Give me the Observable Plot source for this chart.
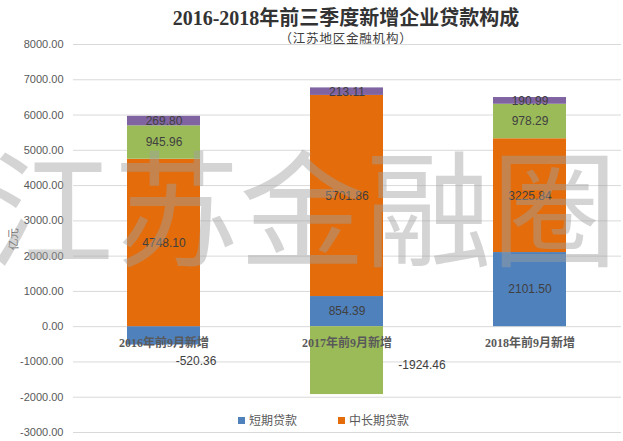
<!DOCTYPE html>
<html>
<head>
<meta charset="utf-8">
<script src="https://cdn.jsdelivr.net/npm/d3@7"></script>
<script src="https://cdn.jsdelivr.net/npm/@observablehq/plot@0.6"></script>
<style>
  body { margin: 0; background: #fff; }
  #wrap { position: relative; width: 623px; height: 441px; overflow: hidden; }
  #title { position: absolute; left: 146px; width: 400px; top: 6px; text-align: center;
    font-family: "Liberation Serif", "Noto Sans CJK SC", serif; font-weight: bold; font-size: 20px; color: #333; line-height: 24px; }
  #subtitle { position: absolute; left: 146px; width: 400px; top: 30px; text-align: center;
    font-family: "Noto Sans CJK SC", sans-serif; font-size: 12.5px; letter-spacing: 0.8px; color: #404040; line-height: 16px; }
  #legend { position: absolute; top: 412px; left: 0; width: 623px; font-family: "Noto Sans CJK SC", sans-serif; font-size: 12px; color: #595959; }
  .item { position: absolute; top: 0; line-height: 16px; white-space: nowrap; }
  .sw { display: inline-block; width: 7px; height: 7px; margin-right: 4px; vertical-align: 1px; }
  svg { position: absolute; left: 0; top: 0; }
</style>
</head>
<body>
<div id="wrap">
  <div id="chart"></div>
  <div id="title">2016-2018年前三季度新增企业贷款构成</div>
  <div id="subtitle">（江苏地区金融机构）</div>
  <div id="legend"></div>
</div>
<script>
const categories = ["2016年前9月新增", "2017年前9月新增", "2018年前9月新增"];
const seriesNames = ["短期贷款", "中长期贷款", "票据融资", "其他贷款"];
const shortTerm = [-520.36, 854.39, 2101.50];
const longTerm = [4748.10, 5701.86, 3225.84];
const bills = [945.96, -1924.46, 978.29];
const others = [269.80, 213.11, 190.99];
const colors = ["#4f81bd", "#e46c0a", "#9bbb59", "#8064a2"];
const yTicks = [-3000, -2000, -1000, 0, 1000, 2000, 3000, 4000, 5000, 6000, 7000, 8000];
const legendNames = ["短期贷款", "中长期贷款"];
const watermark = "江苏金融圈";

const seriesValues = [shortTerm, longTerm, bills, others];
const data = [];
seriesNames.forEach((s, si) => {
  categories.forEach((c, ci) => {
    data.push({category: c, series: s, value: seriesValues[si][ci]});
  });
});

const stackOpts = {x: "category", y: "value", z: "series", order: seriesNames};
const isOutside = d => d.value < 0;

const plot = Plot.plot({
  width: 623,
  height: 441,
  marginTop: 44,
  marginBottom: 9,
  marginLeft: 73,
  marginRight: 2,
  x: {domain: categories, paddingInner: 0.6, paddingOuter: 0.29, axis: null},
  y: {domain: [-3000, 8000]},
  color: {domain: seriesNames, range: colors},
  style: {fontFamily: "Liberation Sans, sans-serif"},
  marks: [
    Plot.gridY(yTicks, {stroke: "#d9d9d9", strokeOpacity: 1, strokeWidth: 1}),
    Plot.axisY(yTicks, {
      tickSize: 0, tickPadding: 10, tickFormat: d => d.toFixed(2),
      fontSize: 11, fill: "#595959",
      label: "亿元", labelAnchor: "center", labelOffset: 64, labelArrow: "none"
    }),
    Plot.barY(data, Plot.stackY({...stackOpts, fill: "series"})),
    Plot.text(data.filter(d => !isOutside(d)), Plot.stackY({
      ...stackOpts, text: d => d.value.toFixed(2), fill: "#404040", fontSize: 12
    })),
    Plot.text(data.filter(d => d.value < 0 && d.category === categories[0]), Plot.stackY({
      ...stackOpts, text: d => d.value.toFixed(2), fill: "#404040", fontSize: 12, dx: 32, dy: 25
    })),
    Plot.text(data.filter(d => d.value < 0 && d.category === categories[1]), Plot.stackY({
      ...stackOpts, text: d => d.value.toFixed(2), fill: "#404040", fontSize: 12, dx: 75, dy: 5
    })),
    Plot.text(categories, {
      x: d => d, y: 0, dy: 16, text: d => d,
      fontFamily: "Liberation Serif, Noto Sans CJK SC, serif", fontWeight: "bold",
      fontSize: 12, fill: "#595959"
    }),
    Plot.text([watermark], {
      frameAnchor: "middle", text: d => d, dx: -45, dy: -22,
      fontSize: 126, fontFamily: "Noto Sans CJK SC, sans-serif",
      fill: "#a0a0a0", fillOpacity: 0.45
    })
  ]
});
document.getElementById("chart").appendChild(plot);

const legend = document.getElementById("legend");
const legendLefts = [238, 338];
legendNames.forEach((name, i) => {
  const item = document.createElement("div");
  item.className = "item";
  item.style.left = legendLefts[i] + "px";
  const sw = document.createElement("span");
  sw.className = "sw";
  sw.style.background = colors[seriesNames.indexOf(name)];
  item.appendChild(sw);
  item.appendChild(document.createTextNode(name));
  legend.appendChild(item);
});
</script>
</body>
</html>
